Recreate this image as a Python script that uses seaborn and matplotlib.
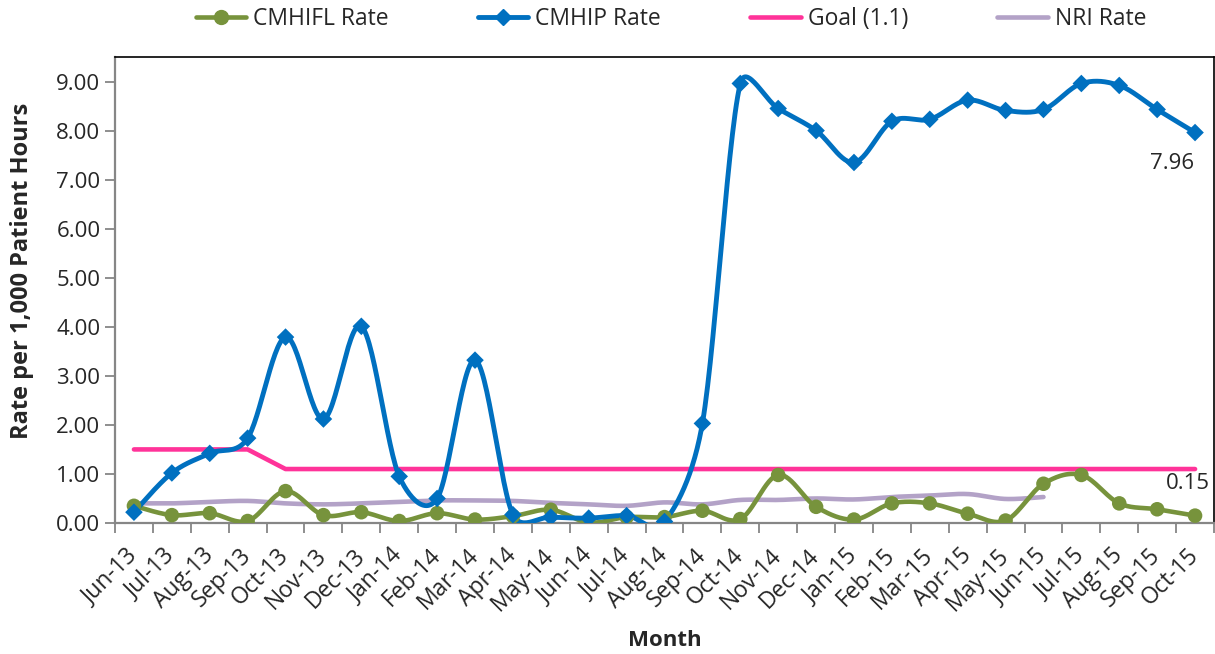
import matplotlib
matplotlib.use("Agg")
import matplotlib.pyplot as plt
import matplotlib.transforms as mtransforms
from matplotlib.lines import Line2D
from matplotlib.ticker import FixedLocator, FormatStrFormatter
import numpy as np
import pandas as pd
import seaborn as sns

MONTHS = ["Jun-13", "Jul-13", "Aug-13", "Sep-13", "Oct-13", "Nov-13", "Dec-13",
          "Jan-14", "Feb-14", "Mar-14", "Apr-14", "May-14", "Jun-14", "Jul-14",
          "Aug-14", "Sep-14", "Oct-14", "Nov-14", "Dec-14", "Jan-15", "Feb-15",
          "Mar-15", "Apr-15", "May-15", "Jun-15", "Jul-15", "Aug-15", "Sep-15", "Oct-15"]
CMHIFL = [0.35, 0.16, 0.20, 0.04, 0.65, 0.16, 0.22, 0.04, 0.20, 0.07, 0.14, 0.27,
          0.01, 0.12, 0.12, 0.25, 0.08, 0.98, 0.33, 0.07, 0.40, 0.40, 0.19, 0.05,
          0.80, 0.98, 0.40, 0.28, 0.15]
CMHIP = [0.22, 1.02, 1.42, 1.73, 3.79, 2.12, 4.01, 0.95, 0.50, 3.32, 0.17, 0.12,
         0.10, 0.15, 0.03, 2.03, 8.96, 8.45, 8.00, 7.35, 8.19, 8.23, 8.62, 8.41,
         8.43, 8.96, 8.92, 8.43, 7.96]
GOAL = [1.5, 1.5, 1.5, 1.5] + [1.1] * 25
NRI = [0.40, 0.40, 0.43, 0.45, 0.40, 0.38, 0.40, 0.43, 0.46, 0.46, 0.45, 0.41,
       0.38, 0.35, 0.42, 0.38, 0.47, 0.47, 0.50, 0.48, 0.53, 0.56, 0.59, 0.49, 0.53]

COLORS = {"CMHIFL Rate": "#77933C", "CMHIP Rate": "#0070C0",
          "Goal (1.1)": "#FF3399", "NRI Rate": "#B3A2C7"}
GRAY = "#868686"
YMAX = 9.5
AX_W, AX_H = 1099, 466  # axes size in px


def smooth(y, n=30):
    # excel-style smoothed line: bezier pieces, handle length capped at half the segment
    sx, sy = AX_W / len(MONTHS), AX_H / YMAX
    pts = np.column_stack([np.arange(len(y)) * sx, np.asarray(y, float) * sy])
    p = np.vstack([pts[0], pts, pts[-1]])
    t = np.linspace(0, 1, n)[:, None]
    segs = []
    for i in range(1, len(p) - 2):
        p0, p1, p2, p3 = p[i - 1], p[i], p[i + 1], p[i + 2]
        d12 = np.hypot(*(p2 - p1))
        f1 = min(1 / 6, d12 / (2 * max(np.hypot(*(p2 - p0)), 1e-9)))
        f2 = min(1 / 6, d12 / (2 * max(np.hypot(*(p3 - p1)), 1e-9)))
        c1 = p1 + (p2 - p0) * f1
        c2 = p2 - (p3 - p1) * f2
        segs.append((1 - t) ** 3 * p1 + 3 * (1 - t) ** 2 * t * c1
                    + 3 * (1 - t) * t ** 2 * c2 + t ** 3 * p2)
    xy = np.vstack(segs)
    return xy[:, 0] / sx, xy[:, 1] / sy


sns.set_theme(style="white")
plt.rcParams["font.family"] = ["Open Sans", "DejaVu Sans"]

fig = plt.figure(figsize=(12.15, 6.54), dpi=100)
ax = fig.add_axes([115 / 1215, 1 - 523 / 654, AX_W / 1215, AX_H / 654])

frames = []
for name, vals, smoothed in [("NRI Rate", NRI, True), ("Goal (1.1)", GOAL, False),
                             ("CMHIFL Rate", CMHIFL, True), ("CMHIP Rate", CMHIP, True)]:
    if smoothed:
        xs, ys = smooth(vals)
    else:
        xs, ys = np.arange(len(vals)), np.array(vals)
    frames.append(pd.DataFrame({"x": xs, "y": ys, "series": name}))
curves = pd.concat(frames, ignore_index=True)

widths = {"NRI Rate": 3.3, "Goal (1.1)": 3.3, "CMHIFL Rate": 3.3, "CMHIP Rate": 3.5}
for name, grp in curves.groupby("series", sort=False):
    sns.lineplot(data=grp, x="x", y="y", color=COLORS[name], lw=widths[name],
                 sort=False, estimator=None, ax=ax, zorder=4 if name == "CMHIP Rate" else 3)

raw = pd.DataFrame({"x": np.arange(len(MONTHS)), "CMHIFL": CMHIFL, "CMHIP": CMHIP})
sns.scatterplot(data=raw, x="x", y="CMHIFL", color=COLORS["CMHIFL Rate"], marker="o",
                s=110, edgecolor="none", ax=ax, zorder=5)
sns.scatterplot(data=raw, x="x", y="CMHIP", color=COLORS["CMHIP Rate"], marker="D",
                s=80, edgecolor="none", ax=ax, zorder=6)

ax.set_xlim(-0.5, len(MONTHS) - 0.5)
ax.set_ylim(0, YMAX)
ax.set_xlabel("")
ax.set_ylabel("")
ax.set_xticks(np.arange(len(MONTHS)))
ax.set_xticklabels(MONTHS, rotation=45, ha="right", va="center", rotation_mode="anchor")
shift = mtransforms.ScaledTranslation(4 / 100, 0, fig.dpi_scale_trans)
for lab in ax.get_xticklabels():
    lab.set_transform(lab.get_transform() + shift)
ax.xaxis.set_minor_locator(FixedLocator(np.arange(-0.5, len(MONTHS), 1)))
ax.tick_params(axis="x", which="major", length=0, pad=21, labelsize=16.5)
ax.tick_params(axis="x", which="minor", length=7, width=1.3, color=GRAY, direction="out")
ax.set_yticks(np.arange(0, 10, 1))
ax.yaxis.set_major_formatter(FormatStrFormatter("%.2f"))
ax.tick_params(axis="y", length=7, width=1.3, color=GRAY, direction="out", labelsize=16)
ax.xaxis.set_tick_params(bottom=True, which="both")
ax.yaxis.set_tick_params(left=True)
for side in ["left", "bottom"]:
    ax.spines[side].set_color(GRAY)
    ax.spines[side].set_linewidth(1.6)
for side in ["top", "right"]:
    ax.spines[side].set_color("black")
    ax.spines[side].set_linewidth(1.2)

ax.annotate(f"{CMHIP[-1]:.2f}", (len(MONTHS) - 1, CMHIP[-1]), xytext=(-1, -22),
            textcoords="offset points", ha="right", va="center", fontsize=16)
ax.annotate(f"{CMHIFL[-1]:.2f}", (len(MONTHS) - 1, CMHIFL[-1]), xytext=(11, 23),
            textcoords="offset points", ha="right", va="center", fontsize=16)

fig.text(22 / 1215, 1 - 271 / 654, "Rate per 1,000 Patient Hours", rotation=90,
         ha="center", va="center", fontsize=17, fontweight="bold")
fig.text(665 / 1215, 1 - 640 / 654, "Month", ha="center", va="center",
         fontsize=16, fontweight="bold")

handles = [
    Line2D([], [], color=COLORS["CMHIFL Rate"], lw=3.3, marker="o", ms=10),
    Line2D([], [], color=COLORS["CMHIP Rate"], lw=3.5, marker="D", ms=8),
    Line2D([], [], color=COLORS["Goal (1.1)"], lw=3.3),
    Line2D([], [], color=COLORS["NRI Rate"], lw=3.3),
]
fig.legend(handles, list(COLORS), loc="center", bbox_to_anchor=(671 / 1215, 1 - 19 / 654),
           ncol=4, frameon=False, fontsize=16.5, handlelength=2.2, handletextpad=0.3,
           columnspacing=3.9)

fig.savefig("out.png", dpi=100)
